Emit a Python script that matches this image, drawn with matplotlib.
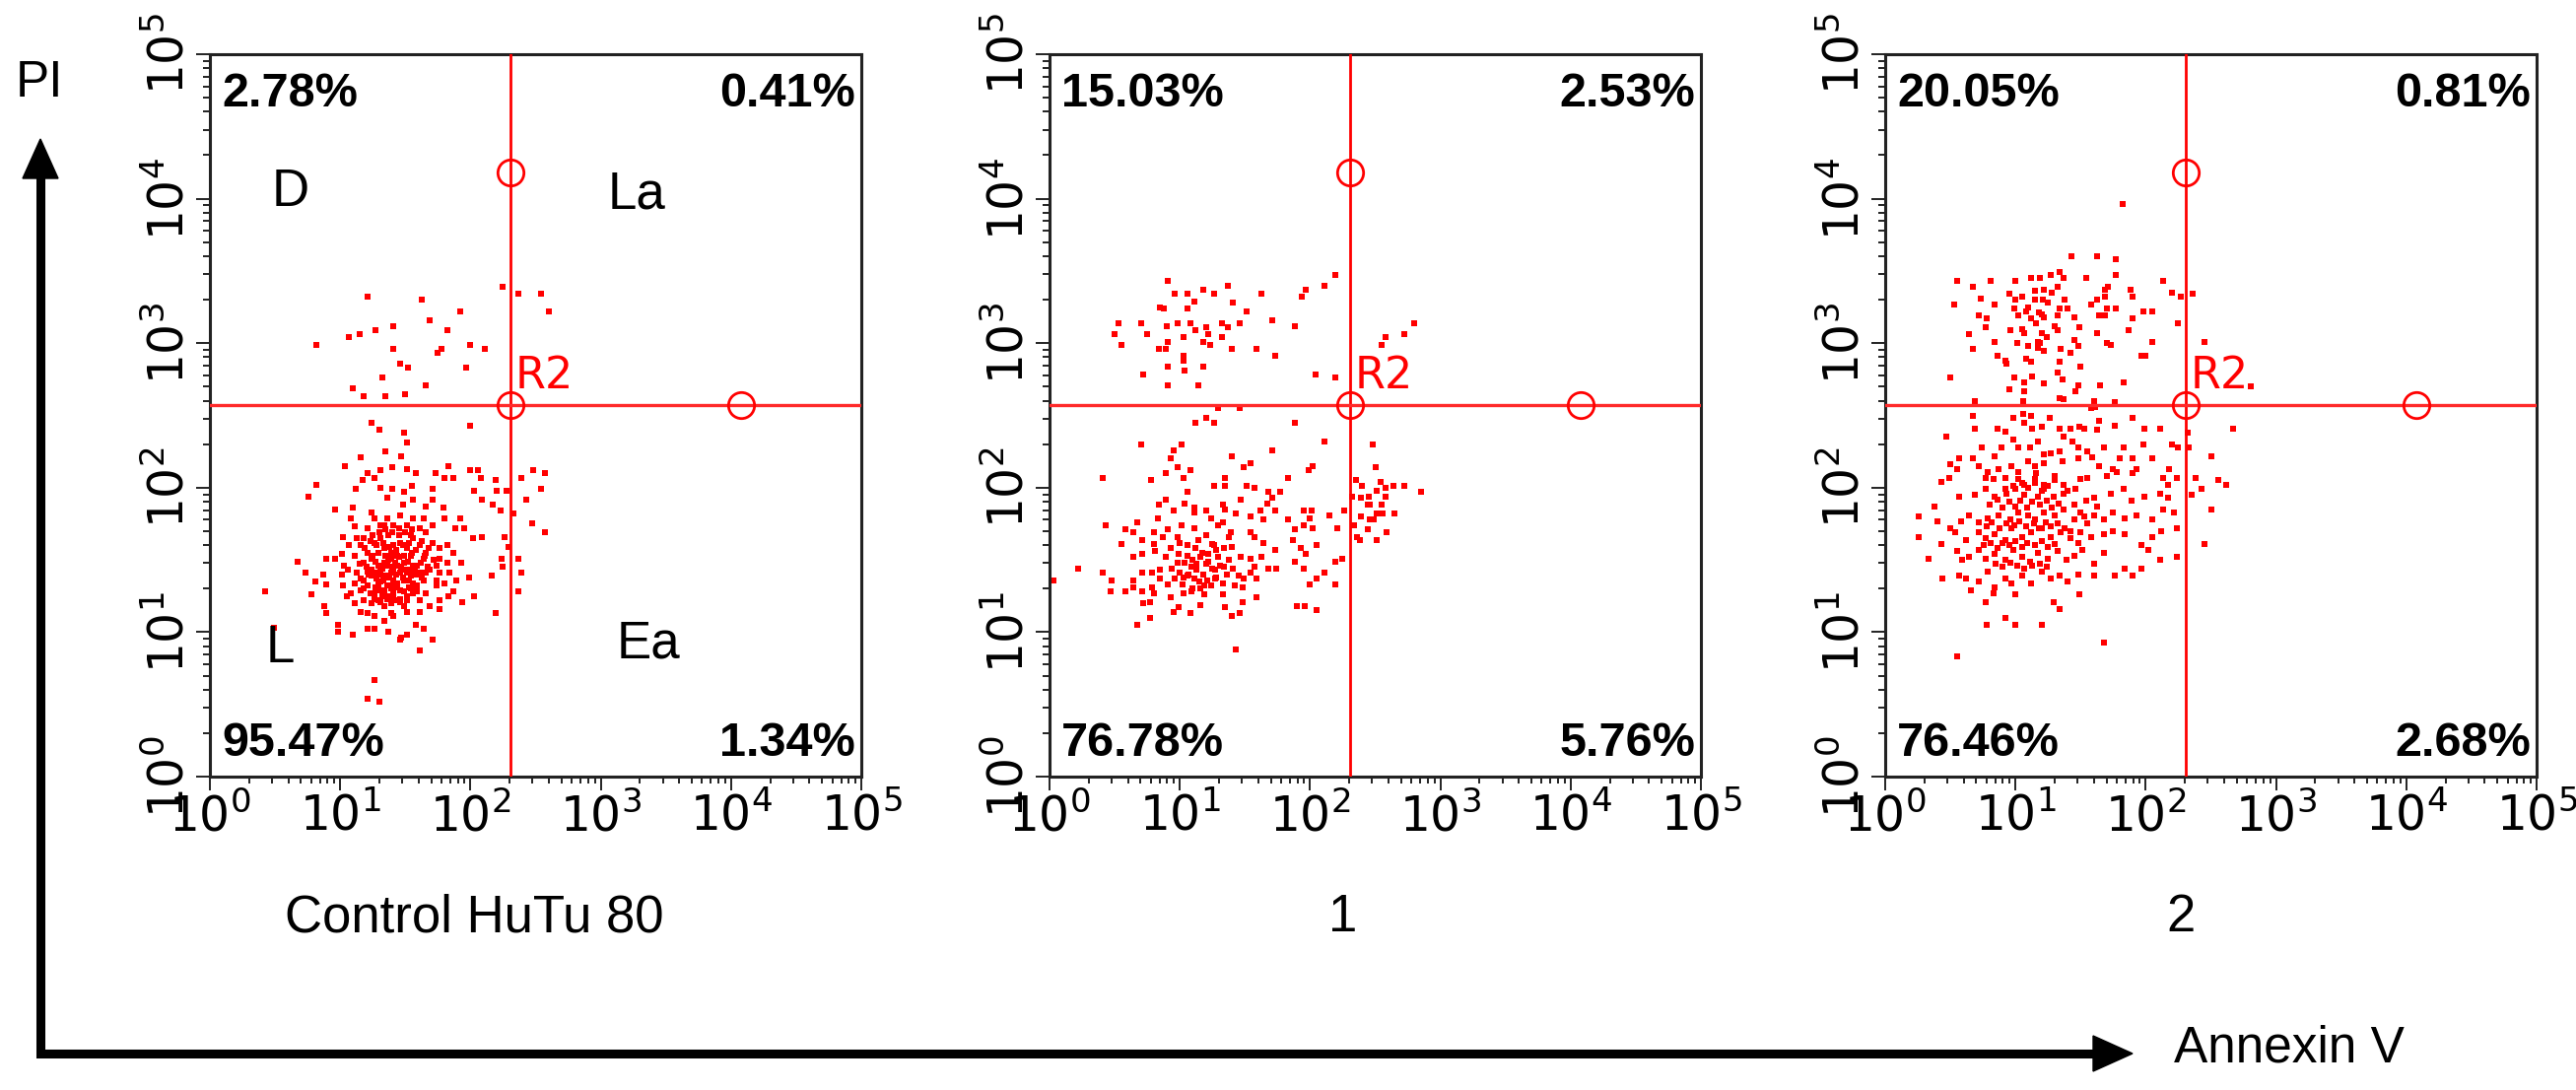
import numpy as np
import matplotlib
matplotlib.use('Agg')
import matplotlib.pyplot as plt
from matplotlib.patches import Polygon
from matplotlib.ticker import LogLocator, NullFormatter

# events as (log10 Annexin V, log10 PI)
ctrl_events = [
    (1.21,3.32),(1.63,3.30),(2.25,3.39),(2.37,3.34),(2.54,3.34),(2.60,3.22),(1.92,3.22),(1.69,3.16),
    (1.41,3.12),(1.27,3.09),(1.15,3.06),(1.07,3.04),(0.82,2.99),(1.82,3.09),(2.00,2.99),(2.11,2.96),
    (1.78,2.96),(1.75,2.93),(1.41,2.96),(1.46,2.86),(1.52,2.83),(1.97,2.83),(1.32,2.76),(1.10,2.69),
    (1.18,2.63),(1.35,2.63),(1.50,2.65),(1.66,2.71),
    (1.24,2.45),(1.30,2.40),(1.49,2.38),(1.51,2.31),(1.35,2.25),(1.47,2.22),(1.16,2.21),(1.04,2.15),
    (2.00,2.43),(1.83,2.15),(1.51,2.13),(2.00,2.12),(2.06,2.12),(2.48,2.12),(2.57,2.10),(2.39,2.07),
    (2.54,1.99),(2.19,2.05),(2.08,2.07),(1.87,2.07),(1.80,2.07),(1.73,2.10),(1.58,2.10),(1.40,2.14),
    (1.31,2.12),(1.21,2.10),(0.82,2.02),(0.76,1.94),(0.96,1.85),(1.10,1.86),(1.12,1.99),(1.17,2.05),
    (1.26,2.07),(2.28,1.98),(2.43,1.92),(2.20,1.98),(2.03,1.98),(2.09,1.92),(2.17,1.88),(2.23,1.84),
    (2.33,1.82),(2.47,1.75),(2.57,1.69),(2.26,1.66),(2.09,1.66),(2.02,1.65),(2.37,1.51),(2.39,1.41),
    (2.37,1.28),(2.24,1.51),(2.25,1.45),(2.29,1.59),(2.16,1.39),(2.03,1.25),(2.19,1.13),(1.94,1.21),
    (1.87,1.28),(1.93,1.48),(1.99,1.38),(1.76,1.16),(1.71,0.95),(1.61,0.87),(1.51,0.98),(1.46,0.95),
    (1.64,1.02),(1.58,1.05),(1.26,0.67),(1.21,0.54),(1.30,0.52),(0.49,1.03),(0.42,1.28),(0.67,1.49),
    (0.73,1.41),(0.81,1.35),(0.87,1.40),(0.89,1.51),(0.96,1.51),(0.89,1.33),(0.78,1.26),(0.88,1.18),
    (0.89,1.13),(0.98,1.05),(0.98,1.00),(1.10,0.98),(1.21,1.02),(1.26,1.02),(1.37,1.00),(1.47,0.96),
    (1.92,1.79),(1.95,1.72),(1.88,1.72),(1.80,1.79),(1.79,1.86),(1.71,1.92),(1.66,1.87),(1.64,1.79),
    (1.56,1.92),(1.48,1.88),(1.36,1.93),(1.40,1.99),(1.49,1.97),(1.55,2.01),(1.71,1.99),(1.31,2.00),
    (1.24,1.83),(1.11,1.73),(1.08,1.79),(1.02,1.66),(1.01,1.54),(1.07,1.60),(1.13,1.65),(1.03,1.46),
    (1.01,1.40),(1.02,1.32),(1.05,1.25),(1.11,1.20),(1.16,1.14),(1.26,1.11),(1.34,1.08),(1.41,1.11),
    (1.51,1.14),(1.61,1.14),(1.69,1.18),(1.76,1.22),(1.83,1.25),(1.80,1.34),(1.74,1.32),(1.66,1.27),
    (1.61,1.22),(1.56,1.27),
    (1.16,1.60),(1.21,1.55),(1.26,1.62),(1.31,1.65),(1.37,1.67),(1.41,1.60),(1.46,1.62),(1.51,1.58),
    (1.56,1.65),(1.61,1.60),(1.66,1.55),(1.71,1.62),(1.76,1.58),(1.18,1.48),(1.24,1.43),(1.29,1.46),
    (1.34,1.48),(1.39,1.51),(1.44,1.46),(1.49,1.48),(1.54,1.43),(1.59,1.46),(1.64,1.51),(1.69,1.43),
    (1.74,1.46),(1.13,1.41),(1.18,1.36),(1.24,1.39),(1.29,1.34),(1.34,1.39),(1.39,1.41),(1.44,1.34),
    (1.49,1.36),(1.54,1.39),(1.59,1.32),(1.64,1.36),(1.11,1.34),(1.16,1.29),(1.21,1.32),(1.26,1.27),
    (1.31,1.29),(1.36,1.32),(1.41,1.27),(1.46,1.29),(1.51,1.25),(1.56,1.34),(1.18,1.22),(1.24,1.20),
    (1.29,1.22),(1.34,1.18),(1.39,1.20),(1.44,1.22),(1.49,1.18),(1.31,1.74),(1.36,1.79),(1.41,1.74),
    (1.46,1.81),(1.26,1.79),(1.21,1.72),(1.51,1.74),(1.56,1.79),(1.61,1.72),(1.66,1.69),(1.71,1.74),
    (1.18,1.65),(1.29,1.55),(1.34,1.58),(1.39,1.55),(1.44,1.53),(1.49,1.53),(1.54,1.53),(1.24,1.51),
    (1.31,1.43),(1.36,1.46),(1.41,1.43),(1.46,1.41),(1.51,1.41),(1.56,1.46),(1.36,1.39),(1.41,1.36),
    (1.31,1.35),(1.26,1.41),(1.21,1.42),(1.41,1.32),(1.37,1.25),(1.32,1.25),(1.27,1.31),(1.46,1.23),
    (1.53,1.31),(1.15,1.47),(1.61,1.41),(1.66,1.41),(1.76,1.41),(1.82,1.48),(1.87,1.55),(1.84,1.41),
    (1.89,1.36),(1.11,1.53),(1.06,1.43),(1.08,1.27),(1.76,1.51),(1.74,1.36),(1.82,1.60),(1.54,1.67),
    (1.21,1.13),(1.39,1.13),(1.34,1.74),(1.45,1.67),(1.25,1.67),
    (1.19,1.58),(1.23,1.63),(1.28,1.60),(1.33,1.62),(1.38,1.59),(1.43,1.57),(1.48,1.60),(1.53,1.62),
    (1.58,1.57),(1.63,1.63),(1.68,1.58),(1.20,1.45),(1.27,1.49),(1.32,1.44),(1.37,1.50),(1.42,1.48),
    (1.47,1.45),(1.52,1.49),(1.57,1.44),(1.62,1.48),(1.67,1.45),(1.72,1.50),(1.16,1.37),(1.22,1.40),
    (1.28,1.37),(1.33,1.36),(1.38,1.38),(1.43,1.40),(1.48,1.38),(1.53,1.36),(1.58,1.40),(1.63,1.38),
    (1.18,1.30),(1.23,1.27),(1.29,1.31),(1.34,1.29),(1.39,1.30),(1.44,1.31),(1.49,1.28),(1.54,1.30),
    (1.59,1.28),(1.26,1.23),(1.31,1.21),(1.36,1.23),(1.41,1.24),(1.46,1.21),(1.51,1.22),(1.30,1.69),
    (1.35,1.71),(1.40,1.69),(1.45,1.72),(1.50,1.69),(1.55,1.71),(1.25,1.53),(1.35,1.53),(1.45,1.52),
    (1.55,1.55),(1.65,1.53),(1.40,1.45),(1.30,1.40),(1.50,1.43),
]

cpd1_events = [
    (0.91,3.43),(0.96,3.34),(1.06,3.34),(1.18,3.37),(1.26,3.34),(1.37,3.40),(1.63,3.34),(1.97,3.37),
    (1.94,3.32),(2.11,3.40),(2.19,3.47),(1.11,3.29),(1.06,3.24),(0.85,3.25),(0.88,3.24),(1.41,3.28),
    (1.51,3.22),(0.53,3.14),(0.70,3.14),(0.98,3.14),(1.08,3.14),(1.32,3.14),(1.37,3.11),(1.46,3.14),
    (1.71,3.16),(1.88,3.12),(0.50,3.06),(0.75,3.06),(0.90,3.12),(1.12,3.09),(1.20,3.11),(1.22,3.06),
    (0.55,2.99),(0.91,3.01),(1.03,3.04),(1.18,3.01),(1.23,2.99),(1.32,3.04),(0.84,2.96),(0.89,2.96),
    (1.40,2.96),(1.59,2.96),(1.73,2.91),(1.03,2.91),(1.03,2.88),(0.91,2.84),(1.04,2.81),(1.18,2.84),
    (0.72,2.78),(0.91,2.71),(1.14,2.71),(2.04,2.78),(2.19,2.76),
    (2.80,3.14),(2.72,3.06),(2.58,3.04),(2.55,2.99),
    (1.29,2.55),(1.46,2.55),(1.12,2.45),(1.20,2.48),(1.26,2.45),(1.88,2.45),(2.11,2.32),(0.70,2.30),
    (1.01,2.30),(0.95,2.26),(0.93,2.20),(1.40,2.22),(1.71,2.26),(1.54,2.17),(1.49,2.14),(2.02,2.15),
    (1.99,2.12),(1.08,2.12),(0.98,2.14),(0.89,2.10),(0.41,2.07),(0.78,2.05),(1.03,2.07),(1.35,2.07),
    (1.26,2.01),(1.35,2.01),(1.51,2.01),(1.57,2.00),(1.83,2.07),(1.77,1.97),(1.68,1.97),(1.71,1.93),
    (1.47,1.92),(0.89,1.92),(1.06,1.97),(0.84,1.88),(1.04,1.89),(1.11,1.86),(1.11,1.83),(1.20,1.84),
    (1.33,1.88),(1.35,1.85),(1.43,1.82),(1.54,1.80),(1.62,1.84),(1.73,1.84),(1.67,1.89),(0.95,1.84),
    (0.83,1.79),(0.67,1.76),(0.43,1.74),(0.58,1.71),(0.64,1.69),(0.71,1.64),(0.80,1.69),(0.91,1.71),
    (1.01,1.74),(1.11,1.72),(1.24,1.79),(1.29,1.74),(1.33,1.76),(1.38,1.66),(1.39,1.69),(1.25,1.61),
    (1.20,1.67),(1.14,1.64),(1.06,1.60),(0.98,1.66),(0.87,1.66),(0.80,1.61),(0.55,1.61),(0.71,1.54),
    (0.64,1.52),(0.81,1.56),(0.89,1.52),(0.99,1.54),(1.06,1.53),(1.10,1.50),(1.16,1.52),(1.22,1.54),
    (1.28,1.57),(1.34,1.58),(1.40,1.59),(1.47,1.52),(1.54,1.51),(1.63,1.52),(1.64,1.62),(1.57,1.66),
    (1.54,1.69),(1.64,1.78),(1.73,1.57),(1.83,1.78),(1.95,1.84),(2.01,1.84),(2.00,1.79),(1.95,1.74),
    (2.02,1.72),(1.88,1.71),(1.87,1.64),(1.93,1.58),(1.97,1.54),(2.05,1.60),(2.15,1.81),(2.21,1.72),
    (1.88,1.49),(2.19,1.49),(2.25,1.51),(0.22,1.44),(0.41,1.41),(0.48,1.36),(0.47,1.28),(0.58,1.28),
    (0.64,1.36),(0.71,1.41),(0.79,1.41),(0.85,1.43),(0.94,1.44),(1.00,1.41),(1.06,1.39),(1.13,1.43),
    (1.20,1.47),(1.27,1.43),(1.34,1.45),(1.41,1.44),(1.57,1.45),(1.74,1.44),(1.68,1.44),(1.95,1.44),
    (1.59,1.37),(1.54,1.41),(1.49,1.37),(1.42,1.32),(1.48,1.31),(1.33,1.34),(1.27,1.37),(1.19,1.32),
    (1.11,1.37),(1.03,1.38),(0.96,1.37),(0.91,1.33),(0.85,1.37),(0.79,1.31),(0.71,1.28),(0.64,1.31),
    (0.80,1.27),(0.93,1.24),(1.03,1.27),(1.09,1.28),(1.16,1.30),(1.33,1.26),(1.35,1.17),(1.40,1.11),
    (1.48,1.21),(1.59,1.24),(1.16,1.19),(1.08,1.13),(0.99,1.17),(0.95,1.14),(0.77,1.21),(0.77,1.10),
    (0.72,1.20),(0.67,1.05),(1.46,1.13),(1.90,1.18),(1.96,1.18),(2.05,1.15),(2.00,1.33),(2.05,1.37),
    (2.11,1.41),(2.19,1.33),(1.43,0.88),(0.03,1.36),(2.26,1.84),
    (1.13,1.47),(1.18,1.40),(1.22,1.49),(1.25,1.44),(1.15,1.35),(1.09,1.45),(1.04,1.48),(1.28,1.38),
    (1.31,1.46),(1.21,1.36),(1.17,1.55),(1.12,1.58),(1.07,1.40),(1.02,1.33),(1.24,1.32),(1.29,1.52),
    (1.36,1.40),(1.19,1.26),(0.98,1.48),(1.10,1.30),(1.26,1.60),(1.38,1.50),(0.93,1.58),(1.00,1.62),
    (1.45,1.39),
    (2.35,2.05),(2.40,2.01),(2.48,2.30),(2.50,2.14),(2.54,2.04),(2.58,2.00),(2.64,2.01),(2.72,2.01),
    (2.85,1.97),(2.51,1.98),(2.45,1.94),(2.44,1.88),(2.46,1.88),(2.39,1.93),(2.32,1.94),(2.58,1.94),
    (2.55,1.88),(2.51,1.82),(2.56,1.82),(2.65,1.82),(2.39,1.80),(2.46,1.78),(2.49,1.78),(2.34,1.74),
    (2.44,1.71),(2.51,1.64),(2.59,1.69),(2.36,1.66),(2.38,1.64),
]

cpd2_events = [
    (1.82,3.96),(1.43,3.60),(1.63,3.60),(1.77,3.58),(1.77,3.47),(1.34,3.49),(1.27,3.47),(1.37,3.45),
    (1.19,3.45),(1.12,3.45),(1.00,3.43),(0.81,3.43),(0.55,3.43),(0.67,3.39),(1.54,3.45),(1.71,3.39),
    (1.69,3.37),(1.88,3.37),(1.90,3.32),(2.13,3.43),(2.20,3.35),(2.27,3.32),(1.22,3.37),(1.32,3.39),
    (0.95,3.34),(1.05,3.32),(1.15,3.30),(1.21,3.30),(0.73,3.31),(0.84,3.27),(0.53,3.27),(0.99,3.24),
    (1.08,3.22),(1.18,3.21),(1.34,3.24),(1.40,3.24),(1.58,3.27),(1.63,3.30),(1.69,3.32),(1.77,3.24),
    (1.70,3.24),(1.98,3.22),(2.05,3.22),(0.72,3.19),(0.78,3.17),(1.02,3.19),(1.12,3.17),(1.22,3.18),
    (1.32,3.19),(1.45,3.18),(1.64,3.19),(1.69,3.19),(1.90,3.17),(2.25,3.14),(0.77,3.11),(0.96,3.09),
    (1.07,3.07),(1.20,3.07),(1.32,3.09),(1.49,3.11),(1.63,3.07),(1.87,3.09),(0.64,3.06),(0.84,3.01),
    (1.01,3.00),(1.17,3.01),(1.24,3.04),(1.45,3.02),(1.48,2.98),(1.70,3.00),(1.73,2.99),(2.05,3.01),
    (0.67,2.96),(1.35,2.96),(1.17,2.97),(1.19,3.00),(1.42,2.93),(1.97,2.91),(2.00,2.91),(0.86,2.91),
    (0.92,2.88),(1.08,2.89),(1.12,2.87),(1.50,2.84),(1.34,2.87),(0.93,2.86),(0.50,2.76),(0.99,2.76),
    (1.07,2.73),(1.13,2.77),(1.22,2.72),(1.32,2.80),(1.36,2.75),(1.48,2.71),(1.46,2.67),(1.65,2.71),
    (1.83,2.73),(0.95,2.68),(1.07,2.67),(1.34,2.62),(1.37,2.61),(0.69,2.60),(1.06,2.60),(1.60,2.60),
    (1.76,2.59),
    (1.10,3.25),(1.15,3.36),(1.25,3.28),(1.30,3.12),(1.05,3.10),(1.20,3.20),(1.28,3.35),(1.00,3.30),
    (1.38,3.30),(1.16,3.14),(1.22,2.95),(1.10,2.98),
    (2.36,3.34),(2.45,3.01),(2.81,2.70),
    (0.67,2.50),(0.69,2.41),(0.86,2.41),(0.92,2.39),(0.98,2.48),(1.06,2.51),(1.12,2.50),(1.07,2.45),
    (1.13,2.41),(1.20,2.42),(1.26,2.48),(1.34,2.41),(1.42,2.41),(1.49,2.42),(1.53,2.41),(1.58,2.55),
    (1.61,2.56),(1.64,2.46),(1.63,2.40),(1.76,2.43),(1.90,2.48),(1.99,2.41),(2.11,2.41),(0.47,2.35),
    (0.74,2.28),(0.84,2.22),(0.89,2.28),(0.98,2.33),(1.02,2.28),(1.11,2.28),(1.17,2.32),(1.22,2.23),
    (1.27,2.24),(1.34,2.25),(1.37,2.35),(1.44,2.32),(1.48,2.28),(1.55,2.25),(1.68,2.28),(1.83,2.28),
    (1.98,2.30),(2.20,2.30),(2.25,2.28),(2.33,2.28),(2.32,2.38),(2.67,2.41),(0.57,2.20),(0.67,2.20),
    (0.50,2.16),(0.55,2.13),(0.72,2.15),(0.79,2.11),(0.87,2.13),(0.97,2.15),(1.02,2.11),(1.10,2.18),
    (1.15,2.15),(1.22,2.17),(1.36,2.18),(1.48,2.20),(1.59,2.21),(1.64,2.15),(1.75,2.13),(1.80,2.20),
    (1.90,2.20),(1.93,2.13),(2.05,2.20),(2.18,2.13),(2.50,2.22),(0.43,2.04),(0.49,2.07),(0.77,2.07),
    (0.83,2.06),(0.92,2.07),(1.02,2.06),(1.07,2.02),(1.15,2.06),(1.22,2.02),(1.30,2.05),(1.37,2.02),
    (1.50,2.06),(1.55,2.07),(1.70,2.08),(1.78,2.11),(1.90,2.10),(2.13,2.07),(2.17,2.02),(2.24,2.07),
    (2.38,2.07),(2.56,2.05),(2.62,2.02),(0.38,1.87),(0.57,1.94),(0.69,1.95),(0.77,1.99),(0.84,1.94),
    (0.93,1.96),(1.00,1.99),(1.07,1.95),(1.17,1.94),(1.22,1.99),(1.29,1.94),(1.37,1.96),(1.46,1.99),
    (1.54,1.91),(1.63,1.87),(1.73,1.96),(1.83,1.99),(1.89,1.91),(1.99,1.94),(2.11,1.96),(2.17,1.93),
    (2.35,1.95),(2.43,1.99),(0.26,1.80),(0.40,1.77),(0.50,1.72),(0.58,1.77),(0.64,1.81),(0.72,1.76),
    (0.79,1.79),(0.87,1.81),(0.96,1.78),(1.02,1.83),(1.10,1.81),(1.15,1.78),(1.22,1.83),(1.30,1.81),
    (1.37,1.85),(1.45,1.78),(1.53,1.80),(1.60,1.81),(1.68,1.78),(1.75,1.83),(1.84,1.79),(1.93,1.81),
    (2.05,1.78),(2.13,1.85),(2.22,1.83),(2.50,1.85),(0.26,1.66),(0.43,1.61),(0.54,1.69),(0.62,1.64),
    (0.72,1.69),(0.77,1.65),(0.84,1.68),(0.92,1.64),(0.97,1.72),(1.05,1.66),(1.12,1.69),(1.20,1.72),
    (1.27,1.66),(1.35,1.69),(1.42,1.65),(1.50,1.69),(1.58,1.66),(1.68,1.68),(1.75,1.70),(1.84,1.68),
    (1.97,1.60),(2.05,1.66),(2.12,1.70),(2.24,1.72),(2.45,1.61),(0.33,1.51),(0.44,1.37),(0.55,1.56),
    (0.59,1.50),(0.64,1.52),(0.72,1.57),(0.77,1.51),(0.84,1.54),(0.92,1.50),(0.98,1.57),(1.05,1.52),
    (1.11,1.49),(1.17,1.55),(1.25,1.51),(1.32,1.56),(1.39,1.50),(1.45,1.53),(1.51,1.57),(1.60,1.47),
    (1.68,1.55),(1.84,1.44),(1.90,1.39),(1.97,1.44),(2.02,1.57),(2.11,1.50),(2.24,1.52),(0.57,1.39),
    (0.62,1.37),(0.66,1.29),(0.72,1.35),(0.79,1.42),(0.84,1.31),(0.92,1.37),(0.97,1.34),(1.05,1.39),
    (1.12,1.34),(1.20,1.42),(1.27,1.37),(1.34,1.39),(1.40,1.35),(1.48,1.40),(1.49,1.26),(1.60,1.39),
    (1.76,1.39),(0.77,1.21),(0.83,1.27),(1.00,1.26),(1.29,1.21),(1.34,1.16),(0.92,1.10),(0.78,1.05),
    (1.00,1.05),(1.20,1.05),(1.68,0.93),(0.55,0.83),
    (0.80,1.88),(0.86,1.92),(0.90,1.86),(0.95,1.90),(1.00,1.87),(1.04,1.91),(1.09,1.86),(1.13,1.90),
    (1.19,1.88),(1.24,1.91),(1.28,1.86),(1.33,1.89),(0.78,1.73),(0.82,1.76),(0.88,1.72),(0.93,1.75),
    (0.99,1.74),(1.03,1.77),(1.08,1.73),(1.14,1.75),(1.18,1.72),(1.23,1.76),(1.27,1.73),(1.32,1.75),
    (1.38,1.72),(0.76,1.60),(0.81,1.62),(0.86,1.58),(0.90,1.62),(0.95,1.60),(1.00,1.63),(1.05,1.59),
    (1.09,1.62),(1.15,1.60),(1.20,1.63),(1.25,1.59),(1.30,1.61),(0.85,1.47),(0.90,1.45),(0.96,1.48),
    (1.01,1.46),(1.07,1.44),(1.13,1.46),(1.19,1.47),(1.24,1.45),(1.10,2.00),(1.15,2.03),(1.20,1.98),
    (1.25,2.01),(1.05,2.03),(0.98,2.01),(0.92,1.99),(1.30,2.08),(1.16,2.10),(1.40,1.98),(1.45,1.88),
    (1.50,1.83),(1.42,1.70),(1.48,1.62),(1.55,1.75),(1.60,1.93),
]

panel_events = [ctrl_events, cpd1_events, cpd2_events]
panel_names = ['Control HuTu 80', '1', '2']
# quadrant percentages: upper-left, upper-right, lower-left, lower-right
quadrant_pct = [
    ['2.78%', '0.41%', '95.47%', '1.34%'],
    ['15.03%', '2.53%', '76.78%', '5.76%'],
    ['20.05%', '0.81%', '76.46%', '2.68%'],
]
quadrant_names = ['D', 'La', 'L', 'Ea']

gate_annexin = 10 ** 2.31
gate_pi = 10 ** 2.57
handle_pi = 10 ** 4.18
handle_annexin = 10 ** 4.08

W, H = 2614, 1106
fig = plt.figure(figsize=(W / 100, H / 100), dpi=100)

panel_left = [213, 1065, 1913]
panel_w, panel_top, panel_bottom = 661, 55, 788
label_x = [481, 1363, 2213]

red = '#ff0000'
txt_font = 'Liberation Sans'

for i, events in enumerate(panel_events):
    ax = fig.add_axes([panel_left[i] / W, (H - panel_bottom) / H,
                       panel_w / W, (panel_bottom - panel_top) / H])
    ax.set_xscale('log')
    ax.set_yscale('log')
    ax.set_xlim(1, 1e5)
    ax.set_ylim(1, 1e5)
    for axis in (ax.xaxis, ax.yaxis):
        axis.set_major_locator(LogLocator(base=10, numticks=12))
        axis.set_minor_locator(LogLocator(base=10, subs=np.arange(2, 10), numticks=12))
        axis.set_minor_formatter(NullFormatter())

    pts = np.array(events)
    ax.scatter(10 ** pts[:, 0], 10 ** pts[:, 1], s=16, marker='s', c=red,
               linewidths=0, zorder=2)

    ax.axvline(gate_annexin, color=red, lw=2.0, zorder=3)
    ax.axhline(gate_pi, color='#ff2a2a', lw=2.4, zorder=3)
    ax.plot([gate_annexin, gate_annexin, handle_annexin], [handle_pi, gate_pi, gate_pi],
            'o', ms=19, mfc='none', mec=red, mew=2, zorder=4, clip_on=False)
    ax.text(gate_annexin * 1.07, 10 ** 2.69, 'R2', color=red, fontsize=32,
            family='DejaVu Sans', ha='left', va='baseline', zorder=5)

    ul, ur, ll, lr = quadrant_pct[i]
    pkw = dict(transform=ax.transAxes, fontsize=35, fontweight='bold', family=txt_font)
    ax.text(0.018, 0.975, ul, ha='left', va='top', **pkw)
    ax.text(0.991, 0.975, ur, ha='right', va='top', **pkw)
    ax.text(0.018, 0.029, ll, ha='left', va='baseline', **pkw)
    ax.text(0.991, 0.029, lr, ha='right', va='baseline', **pkw)

    if i == 0:
        qkw = dict(transform=ax.transAxes, fontsize=38, family=txt_font,
                   ha='left', va='baseline')
        ax.text(0.095, 0.790, quadrant_names[0], **qkw)
        ax.text(0.611, 0.786, quadrant_names[1], **qkw)
        ax.text(0.086, 0.158, quadrant_names[2], **qkw)
        ax.text(0.625, 0.164, quadrant_names[3], **qkw)

    for side in ax.spines.values():
        side.set_linewidth(2.2)
        side.set_color('#222222')
    ax.tick_params(which='both', direction='out', top=False, right=False,
                   color='#222222', width=1.4)
    ax.tick_params(which='major', length=10, labelsize=35, pad=2)
    ax.tick_params(which='minor', length=5)
    ax.tick_params(axis='y', labelrotation=90)
    for lab in ax.get_xticklabels() + ax.get_yticklabels():
        lab.set_family('DejaVu Sans')
    for lab in ax.get_yticklabels():
        lab.set_verticalalignment('center')

    fig.text(label_x[i] / W, 1 - 931 / H, panel_names[i], fontsize=38,
             family=txt_font, ha='center', va='center')

# big axis arrows drawn on a full-figure overlay in pixel units
ov = fig.add_axes([0, 0, 1, 1], zorder=-1)
ov.set_xlim(0, W)
ov.set_ylim(H, 0)
ov.axis('off')
ov.plot([41, 41, 2130], [178, 1069, 1069], color='black', lw=6.5,
        solid_joinstyle='miter', solid_capstyle='butt')
ov.add_patch(Polygon([(41, 141), (23, 181), (59, 181)], closed=True, color='black'))
ov.add_patch(Polygon([(2164, 1069), (2124, 1051), (2124, 1087)], closed=True, color='black'))
ov.text(40, 84, 'PI', fontsize=37, family=txt_font, ha='center', va='center')
ov.text(2206, 1077, 'Annexin V', fontsize=37, family=txt_font, ha='left', va='baseline')

fig.savefig('out.png', dpi=100)
